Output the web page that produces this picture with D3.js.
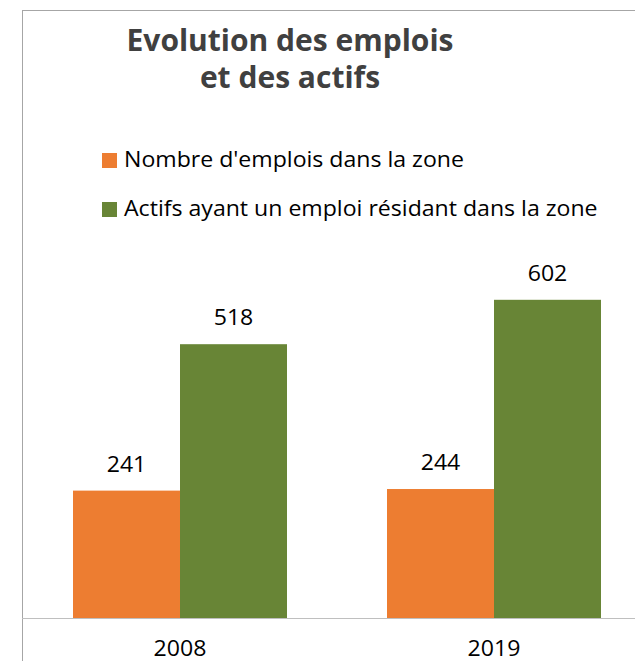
<!DOCTYPE html>
<html>
<head>
<meta charset="utf-8">
<script src="https://cdn.jsdelivr.net/npm/d3@7"></script>
<style>
  body { margin: 0; background: #fff; }
  text { font-family: "Open Sans", Lato, sans-serif; }
</style>
</head>
<body>
<div id="chart"></div>
<script>
var years = ["2008", "2019"];
var series = ["Nombre d'emplois dans la zone", "Actifs ayant un emploi résidant dans la zone"];
var emplois = [241, 244];
var actifs = [518, 602];
var colors = ["#ED7D31", "#688536"];

var WIDTH = 635, HEIGHT = 661;
var baseY = 618;
var stretch = 1.1; // source text looks a bit wide

var svg = d3.select("#chart")
    .append("svg")
    .attr("width", WIDTH)
    .attr("height", HEIGHT);

// frame of the chart area (cut on the right and at the bottom)
svg.append("rect")
    .attr("x", 22.5)
    .attr("y", 10.5)
    .attr("width", 700)
    .attr("height", 700)
    .attr("fill", "none")
    .attr("stroke", "#a6a6a6")
    .attr("stroke-width", 1);

var x0 = d3.scaleBand().domain(years).range([23, 651]).padding(0);
var x1 = d3.scaleBand().domain(d3.range(series.length)).range([50, 264]);
var y = d3.scaleLinear().domain([0, 700]).range([baseY, 248]);

var values = [emplois, actifs];

years.forEach(function(yr, i) {
    var g = svg.append("g").attr("transform", "translate(" + x0(yr) + ",0)");
    values.forEach(function(vals, s) {
        g.append("rect")
            .attr("x", x1(s))
            .attr("y", y(vals[i]))
            .attr("width", x1.bandwidth())
            .attr("height", baseY - y(vals[i]))
            .attr("fill", colors[s]);
        g.append("text")
            .attr("transform", "translate(" + (x1(s) + x1.bandwidth() / 2) + "," + (y(vals[i]) - 19) + ") scale(" + stretch + ",1)")
            .attr("text-anchor", "middle")
            .style("font-size", "21px")
            .attr("fill", "#000")
            .text(vals[i]);
    });
});

// x axis
var xAxis = d3.axisBottom(x0).tickSize(0).tickPadding(0);
var ax = svg.append("g")
    .attr("transform", "translate(0," + baseY + ")")
    .call(xAxis);
ax.select(".domain").remove();
ax.selectAll("text")
    .attr("y", 38)
    .attr("dy", 0)
    .attr("transform", "scale(" + stretch + ",1)")
    .style("font-size", "21px")
    .style("font-family", "'Open Sans', sans-serif")
    .attr("fill", "#000");
svg.append("line")
    .attr("x1", 22).attr("x2", WIDTH)
    .attr("y1", baseY + 0.5).attr("y2", baseY + 0.5)
    .attr("stroke", "#bfbfbf")
    .attr("stroke-width", 1);

// title
var title = svg.append("text")
    .attr("text-anchor", "middle")
    .attr("fill", "#404040")
    .style("font-size", "30px")
    .style("font-weight", "bold");
title.append("tspan").attr("x", 290).attr("y", 51).text("Evolution des emplois");
title.append("tspan").attr("x", 290).attr("y", 88).text("et des actifs");

// legend
series.forEach(function(name, s) {
    var ly = 167 + s * 49;
    svg.append("rect")
        .attr("x", 102)
        .attr("y", ly - 14)
        .attr("width", 15)
        .attr("height", 15)
        .attr("fill", colors[s]);
    svg.append("text")
        .attr("transform", "translate(124," + ly + ") scale(" + stretch + ",1)")
        .style("font-size", "21px")
        .attr("fill", "#000")
        .text(name);
});
</script>
</body>
</html>
